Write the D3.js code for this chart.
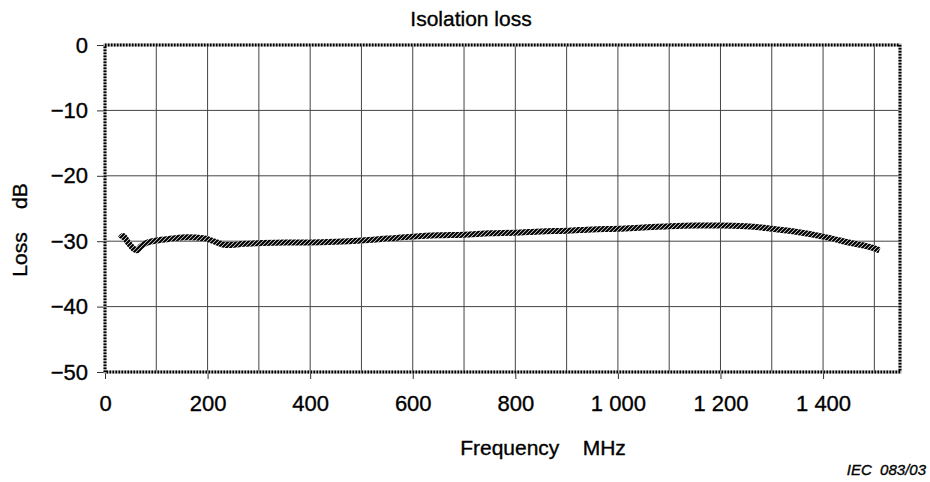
<!DOCTYPE html>
<html>
<head>
<meta charset="utf-8">
<script src="https://cdn.jsdelivr.net/npm/d3@7"></script>
<style>
  body { margin: 0; background: #fff; }
  text { font-family: "Liberation Sans", Arial, sans-serif; fill: #000; stroke: #000; stroke-width: 0.35px; }
</style>
</head>
<body>
<div id="chart"></div>
<script>
// Isolation loss - frequency sweep

var freq = [30, 35, 45, 55, 62, 70, 80, 100, 130, 160, 195, 215, 238, 270, 300, 350, 400, 450, 500, 550,
            600, 650, 700, 750, 800, 850, 900, 950, 1000, 1050, 1100, 1150, 1200, 1250, 1300, 1350, 1400, 1450, 1500, 1510];
var loss = [-29.6, -29.2, -30.2, -31.1, -31.4, -30.8, -30.3, -29.9, -29.6, -29.4, -29.6, -30.1, -30.6, -30.4, -30.3, -30.2, -30.2, -30.1, -29.9, -29.6,
            -29.3, -29.1, -29.0, -28.8, -28.7, -28.5, -28.4, -28.2, -28.1, -27.9, -27.7, -27.6, -27.6, -27.7, -28.1, -28.6, -29.3, -30.2, -31.1, -31.4];

var xTicks = [0, 200, 400, 600, 800, 1000, 1200, 1400];
var xGrid = d3.range(0, 1501, 100);
var yTicks = [0, -10, -20, -30, -40, -50];

var width = 930, height = 482;
var margin = {left: 105, top: 45, right: 30, bottom: 110};
var plotW = width - margin.left - margin.right;
var plotH = height - margin.top - margin.bottom;

var svg = d3.select("#chart").append("svg")
    .attr("width", width)
    .attr("height", height);

// hatch pattern for the curve
var defs = svg.append("defs");
defs.append("pattern")
    .attr("id", "hatch")
    .attr("patternUnits", "userSpaceOnUse")
    .attr("width", 4).attr("height", 4)
    .append("path")
    .attr("d", "M-1,1 l2,-2 M0,4 l4,-4 M3,5 l2,-2")
    .attr("stroke", "#000")
    .attr("stroke-width", 2.2);

var x = d3.scaleLinear().domain([0, 1550]).range([0, plotW]);
var y = d3.scaleLinear().domain([-50, 0]).range([plotH, 0]);

var g = svg.append("g").attr("transform", "translate(" + margin.left + "," + margin.top + ")");

// grid
g.selectAll(".vgrid").data(xGrid).enter().append("line")
    .attr("class", "vgrid")
    .attr("x1", function(d) { return x(d); }).attr("x2", function(d) { return x(d); })
    .attr("y1", 0).attr("y2", plotH)
    .attr("stroke", "#444").attr("stroke-width", 1);

g.selectAll(".hgrid").data(yTicks).enter().append("line")
    .attr("class", "hgrid")
    .attr("x1", 0).attr("x2", plotW)
    .attr("y1", function(d) { return y(d); }).attr("y2", function(d) { return y(d); })
    .attr("stroke", "#444").attr("stroke-width", 1);

// axes
var fmt = d3.formatLocale({decimal: ".", thousands: " ", grouping: [3], currency: ["", ""]}).format(",");

var xAxis = g.append("g")
    .attr("transform", "translate(0," + plotH + ")")
    .call(d3.axisBottom(x).tickValues(xTicks).tickFormat(fmt).tickSize(7).tickPadding(16));
var yAxis = g.append("g")
    .call(d3.axisLeft(y).tickValues(yTicks).tickFormat(d3.format("d")).tickSize(8).tickPadding(9));

[xAxis, yAxis].forEach(function(a) {
    a.select(".domain").remove();
    a.selectAll("line").attr("stroke", "#333");
    a.selectAll("text").style("font-size", "22px");
});

// frame
g.append("rect")
    .attr("x", 0).attr("y", 0)
    .attr("width", plotW).attr("height", plotH)
    .attr("fill", "none")
    .attr("stroke", "#aaa")
    .attr("stroke-width", 3);
g.append("rect")
    .attr("x", 0).attr("y", 0)
    .attr("width", plotW).attr("height", plotH)
    .attr("fill", "none")
    .attr("stroke", "#000")
    .attr("stroke-width", 3)
    .attr("stroke-dasharray", "1.5,1.5");

// curve
var line = d3.line()
    .x(function(d, i) { return x(freq[i]); })
    .y(function(d) { return y(d); })
    .curve(d3.curveMonotoneX);

g.append("path")
    .datum(loss)
    .attr("d", line)
    .attr("fill", "none")
    .attr("stroke", "#fff")
    .attr("stroke-width", 6);
g.append("path")
    .datum(loss)
    .attr("d", line)
    .attr("fill", "none")
    .attr("stroke", "url(#hatch)")
    .attr("stroke-width", 6);

// titles
svg.append("text")
    .attr("x", 471).attr("y", 26)
    .attr("text-anchor", "middle")
    .style("font-size", "21px")
    .text("Isolation loss");

svg.append("text")
    .attr("x", 543).attr("y", 455)
    .attr("text-anchor", "middle")
    .style("font-size", "21px")
    .attr("xml:space", "preserve")
    .text("Frequency    MHz");

svg.append("text")
    .attr("transform", "translate(27,230) rotate(-90)")
    .attr("text-anchor", "middle")
    .style("font-size", "21px")
    .attr("xml:space", "preserve")
    .text("Loss    dB");

svg.append("text")
    .attr("x", 926).attr("y", 475)
    .attr("text-anchor", "end")
    .style("font-size", "15px")
    .style("font-style", "italic")
    .attr("xml:space", "preserve")
    .text("IEC  083/03");
</script>
</body>
</html>
